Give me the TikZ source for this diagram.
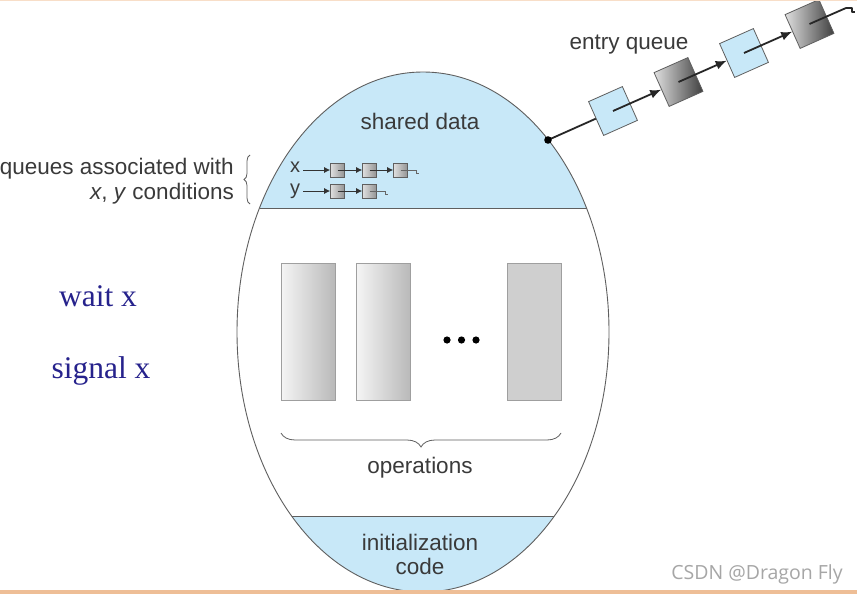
\documentclass[tikz,border=0pt]{standalone}
\usepackage{fontspec}
\setmainfont{Liberation Sans}
\newfontfamily\timesf{Liberation Serif}
\newfontfamily\wmfont{Open Sans}
\usetikzlibrary{arrows.meta,decorations.pathreplacing,calc}
\definecolor{qblue}{RGB}{200,232,248}
\definecolor{txt}{RGB}{58,58,58}
\definecolor{outl}{RGB}{95,95,95}
\definecolor{wblue}{RGB}{38,34,140}
\definecolor{orl}{RGB}{238,190,150}
\definecolor{orltop}{RGB}{248,222,200}
\begin{document}
\begin{tikzpicture}[x=1pt,y=-1pt,
  lbl/.style={text=txt, font=\fontsize{22.5}{24}\selectfont, inner sep=0pt},
  xylbl/.style={text=txt, font=\fontsize{20}{22}\selectfont, inner sep=0pt},
  wtxt/.style={text=wblue, font=\timesf\fontsize{31.5}{34}\selectfont, inner sep=0pt},
  eqlight/.style={draw=outl, line width=0.8pt, fill=qblue, minimum size=37pt, inner sep=0pt, rotate=24},
  eqdark/.style={draw=outl, line width=0.8pt, left color=gray!25, right color=black!75, minimum size=37pt, inner sep=0pt, rotate=24},
  sq/.style={draw=outl, line width=0.6pt, left color=gray!25, right color=gray!85, minimum size=14pt, inner sep=0pt},
  opbox/.style={draw=gray!75, line width=0.8pt, minimum width=54pt, minimum height=137pt, inner sep=0pt},
  bigarrow/.style={line width=1.8pt, black!85, -{Latex[length=11pt,width=9pt]}},
  bigline/.style={line width=1.8pt, black!85},
  smallarrow/.style={line width=0.9pt, black!80, -{Latex[length=6pt,width=6pt]}},
  smallline/.style={line width=0.7pt, black!60},
  bracestyle/.style={draw=outl, line width=0.8pt, decorate}
]
\useasboundingbox (0,0) rectangle (857,594);
\fill[white] (0,0) rectangle (857,594);

% monitor ellipse with its blue parts
\begin{scope}
  \clip (423,332) ellipse [x radius=186, y radius=260];
  \fill[qblue] (200,60) rectangle (650,208);
  \fill[qblue] (200,516) rectangle (650,600);
\end{scope}
\draw[outl, line width=0.9pt] (423,332) ellipse [x radius=186, y radius=260];
\draw[outl, line width=0.9pt] (259.5,208) -- (586.5,208);
\draw[outl, line width=0.9pt] (291.6,516) -- (554.4,516);

% labels in the monitor
\node[lbl] (sd) at (420,121) {shared data};
\node[lbl] (ops) at (420,468) {operations};
\node[lbl, align=center] (init) at (420,554) {initialization\\code};

% operations
\node[opbox, left color=gray!8, right color=gray!55] (op1) at (308,331.5) {};
\node[opbox, left color=gray!8, right color=gray!55] (op2) at (383.5,331.5) {};
\node[opbox, fill=gray!38] (op3) at (534,331.5) {};
\fill[black] (447,340) circle (3.6);
\fill[black] (461.5,340) circle (3.6);
\fill[black] (476,340) circle (3.6);
\draw[bracestyle, decoration={brace, amplitude=14pt}] (561,433) -- (281,433);

% entry queue
\coordinate (entry) at (548,140);
\node[eqlight] (e1) at (613,111) {};
\node[eqdark]  (e2) at (678.5,82) {};
\node[eqlight] (e3) at (744,53) {};
\node[eqdark]  (e4) at (809.5,24) {};
\draw[bigline] (entry) -- (e1);
\draw[bigarrow] (e1.center) -- (e2);
\draw[bigarrow] (e2.center) -- (e3);
\draw[bigarrow] (e3.center) -- (e4);
\coordinate (eend) at (846,8);
\draw[bigline] (e4.center) -- (eend);
\draw[line width=1.3pt, black!85, line join=round] (eend) -- ++(6,0) -- ++(0,4) -- ++(3,0);
\fill[black] (entry) circle (3.8);
\node[lbl] (eq) at (629,45) {entry queue};

% condition queues
\node[xylbl] (xl) at (295,167) {x};
\node[xylbl] (yl) at (295,191) {y};
\node[sq] (x1) at (337.5,170) {};
\node[sq] (x2) at (369.5,170) {};
\node[sq] (x3) at (400.5,170) {};
\node[sq] (y1) at (337.5,191) {};
\node[sq] (y2) at (369.5,191) {};
\draw[smallarrow, shorten <=3pt] (xl.east |- x1) -- (x1);
\draw[smallarrow] (x1.center) -- (x2);
\draw[smallarrow] (x2.center) -- (x3);
\draw[smallarrow, shorten <=3pt] (yl.east |- y1) -- (y1);
\draw[smallarrow] (y1.center) -- (y2);
\coordinate (xend) at (416,170);
\coordinate (yend) at (385,191);
\draw[smallline] (x3.center) -- (xend) -- ++(0,3) -- ++(3,0);
\draw[smallline] (y2.center) -- (yend) -- ++(0,3) -- ++(3,0);

\node[lbl, anchor=east] (qa1) at (234,169) {queues associated with};
\node[lbl, anchor=east] (qa2) at (234,194) {\textit{x}, \textit{y} conditions};
\draw[bracestyle, decoration={brace, amplitude=6pt}] (250,204) -- (250,155);

% left notes
\node[wtxt] (wx) at (98,296) {wait x};
\node[wtxt] (sx) at (101,371) {signal x};

% watermark
\node[text=gray!70, font=\wmfont\fontsize{19.5}{22}\selectfont, inner sep=0pt] (wm) at (757,574) {CSDN @Dragon Fly};

% frame lines
\fill[orltop] (0,0) rectangle (857,1.5);
\fill[orl] (0,590) rectangle (857,594);
\end{tikzpicture}
\end{document}
